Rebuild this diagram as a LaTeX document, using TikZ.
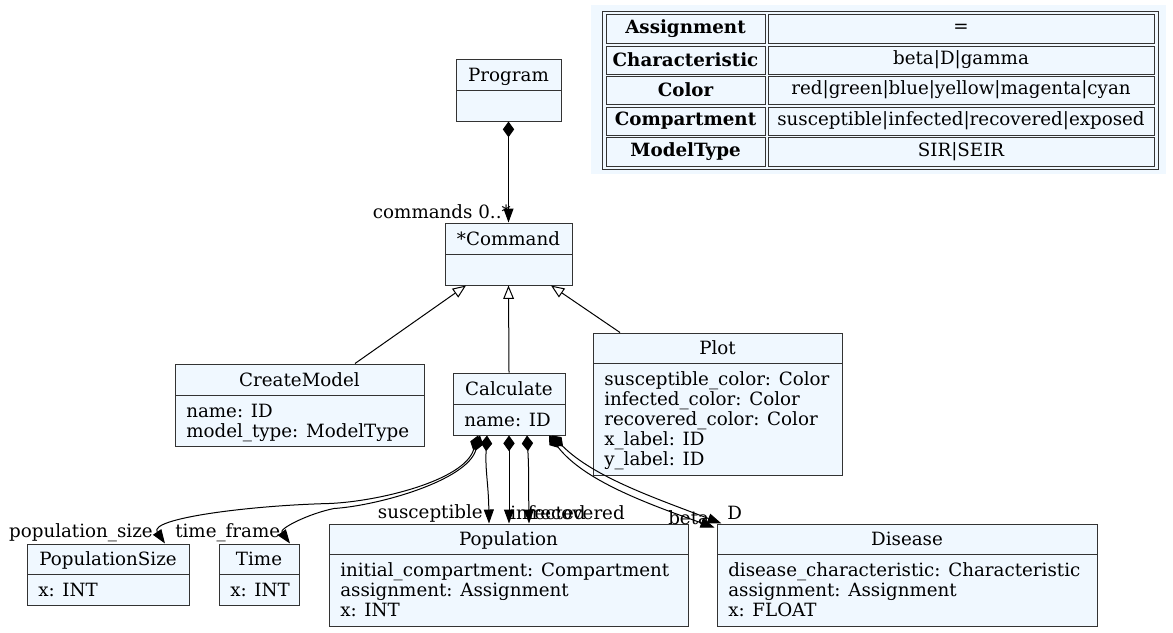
\documentclass[tikz,border=0pt]{standalone}
\usepackage{fontspec}
\setmainfont{DejaVu Serif}
\usetikzlibrary{arrows.meta,fit,calc}
\definecolor{clsfill}{HTML}{F0F8FF}
\definecolor{clsdraw}{HTML}{333333}
\tikzset{
  cls/.style={draw=clsdraw, fill=clsfill, inner sep=0pt, line width=0.75pt},
  clsline/.style={draw=clsdraw, line width=0.75pt},
  txt/.style={inner sep=0pt, font=\fontsize{13.7}{15}\selectfont},
  lbl/.style={inner sep=0pt, font=\fontsize{13.7}{15}\selectfont},
  legcell/.style={draw=clsdraw, fill=clsfill, inner sep=0pt, line width=0.75pt},
  comp/.style={line width=0.75pt, {Diamond[length=11.8pt,width=8.5pt]}-{Triangle[length=10.5pt,width=7.5pt]}},
  inh/.style={line width=0.75pt, -{Triangle[open,fill=white,length=10pt,width=8pt]}},
}
\newcommand\umlcls[8]{%
  \node[cls, fit={(#2,#3) (#4,#5)}] (#1) {};
  \draw[clsline] (#2,#6) -- (#4,#6);
  \node[txt, anchor=base] (#1-t) at ({(#2+#4)/2},#6-9) {#7};
  \node[txt, anchor=north west, align=left] (#1-a) at (#2+11,#6+8.5) {\strut#8};
}
\newcommand\legrow[5]{%
  \node[legcell, fit={(606,#1) (765,#2)}] (#3-k) {};
  \node[txt] at (#3-k.center) {\bfseries #4};
  \node[legcell, fit={(768,#1) (1154,#2)}] (#3-v) {};
  \node[txt] at (#3-v.center) {#5};
}
\begin{document}
\begin{tikzpicture}[x=0.75pt,y=-0.75pt]
\useasboundingbox (0,0) rectangle (1173,632);
\fill[white] (0,0) rectangle (1173,632);
% legend
\node[fill=clsfill, inner sep=0pt, fit={(591,5) (1166,174)}] (legend) {};
\node[draw=clsdraw, line width=0.75pt, inner sep=0pt, fit={(602,11) (1158,169)}] (legtab) {};
\legrow{14}{43}{r1}{Assignment}{=}
\legrow{46}{74}{r2}{Characteristic}{beta|D|gamma}
\legrow{76}{104}{r3}{Color}{red|green|blue|yellow|magenta|cyan}
\legrow{107}{135}{r4}{Compartment}{susceptible|infected|recovered|exposed}
\legrow{137}{166}{r5}{ModelType}{SIR|SEIR}
% classes
\umlcls{prog}{456}{59}{561}{121}{90}{Program}{}
\umlcls{cmd}{445}{223}{572}{285}{254}{*Command}{}
\umlcls{cm}{175}{364}{424}{446}{395}{CreateModel}{name: ID\\model\_type: ModelType}
\umlcls{calc}{453}{373}{565}{435}{404}{Calculate}{name: ID}
\umlcls{plot}{593}{333}{842}{475}{363}{Plot}{susceptible\_color: Color\\infected\_color: Color\\recovered\_color: Color\\x\_label: ID\\y\_label: ID}
\umlcls{ps}{27}{544}{189}{605}{574}{PopulationSize}{x: INT}
\umlcls{time}{219}{544}{299}{605}{574}{Time}{x: INT}
\umlcls{pop}{329}{524}{688}{626}{554}{Population}{initial\_compartment: Compartment\\assignment: Assignment\\x: INT}
\umlcls{dis}{717}{524}{1097}{626}{554}{Disease}{disease\_characteristic: Characteristic\\assignment: Assignment\\x: FLOAT}
% program -> command
\draw[comp] (prog.south) -- (cmd.north);
\node[lbl, anchor=east] (l-cmds) at (511,212) {commands 0..*};
% inheritance
\draw[inh] ($(cm.north)+(55.5,0)$) -- ($(cmd.south)+(-42.5,0)$);
\draw[inh] (calc.north) -- (cmd.south);
\draw[inh] ($(plot.north)+(-97.5,0)$) -- ($(cmd.south)+(42.5,0)$);
% calculate compositions
\draw[comp] ($(calc.south)+(-31,0)$) .. controls ($(calc.south)+(-45,45)$) and ($(calc.south)+(-130,66)$) .. ($(calc.south)+(-180,68)$) .. controls ($(calc.south)+(-260,70)$) and ($(ps.north)+(40,-25)$) .. ($(ps.north)+(57,0)$);
\draw[comp] ($(calc.south)+(-29,0)$) .. controls ($(calc.south)+(-42,45)$) and ($(calc.south)+(-130,70)$) .. ($(calc.south)+(-175,73)$) .. controls ($(calc.south)+(-200,78)$) and ($(time.north)+(20,-15)$) .. ($(time.north)+(31,0)$);
\draw[comp] ($(calc.south)+(-22,0)$) .. controls ($(calc.south)+(-24,35)$) and ($(pop.north)+(-20,-40)$) .. ($(pop.north)+(-19.5,0)$);
\draw[comp] (calc.south) -- ($(pop.north)+(0.5,0)$);
\draw[comp] ($(calc.south)+(18,0)$) .. controls ($(calc.south)+(20,35)$) and ($(pop.north)+(20,-40)$) .. ($(pop.north)+(20.5,0)$);
\draw[comp] ($(calc.south)+(40,0)$) .. controls ($(calc.south)+(75,45)$) and ($(dis.north west)+(-70,-20)$) .. ($(dis.north west)+(-2,4)$);
\draw[comp] ($(calc.south)+(43,0)$) .. controls ($(calc.south)+(85,42)$) and ($(dis.north west)+(-60,-25)$) .. ($(dis.north west)+(5,0)$);
% labels
\node[lbl, anchor=east] (l-ps) at (153,533) {population\_size};
\node[lbl, anchor=west] (l-tf) at (175,533) {time\_frame};
\node[lbl, anchor=east] (l-sus) at (483,513) {susceptible};
\node[lbl, anchor=west] (l-inf) at (510,513) {infected};
\node[lbl, anchor=east] (l-rec) at (625,513) {recovered};
\node[lbl, anchor=west] (l-beta) at (668,518) {beta};
\node[lbl, anchor=west] (l-d) at (727,513) {D};
\end{tikzpicture}
\end{document}
